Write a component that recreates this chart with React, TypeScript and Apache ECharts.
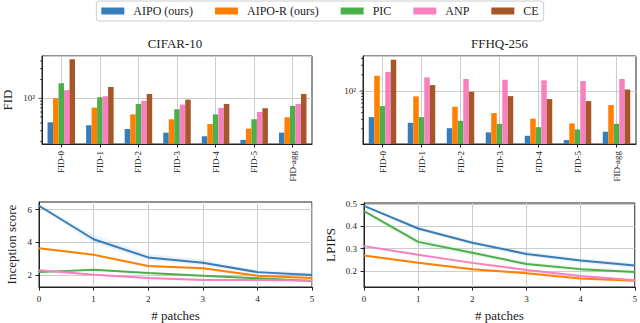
import React, { useEffect, useRef } from 'react';
import * as echarts from 'echarts';

const FONT = 'Liberation Serif';
const INK = '#222222';
const GRIDC = '#cccccc';

const methods = ['AIPO (ours)', 'AIPO-R (ours)', 'PIC', 'ANP', 'CE'];
const colors = ['#377eb8', '#ff7f00', '#4daf4a', '#f781bf', '#a65628'];
const fidCategories = ['FID-0', 'FID-1', 'FID-2', 'FID-3', 'FID-4', 'FID-5', 'FID-agg'];

// CIFAR-10 FID (log scale)
const cifarAIPO = [41, 36.7, 32, 27.9, 24.4, 21.3, 27.9];
const cifarAIPOR = [100, 70.7, 55, 45.8, 38.5, 32.4, 49.4];
const cifarPIC = [175, 104, 81, 66.5, 55, 45.8, 75.2];
const cifarANP = [135, 108, 90.6, 79, 70, 60, 81];
const cifarCE = [425, 152, 117, 95, 81, 69, 117];

// FFHQ-256 FID (log scale)
const ffhqAIPO = [33, 25.9, 20.6, 17.2, 14.9, 12.4, 17.7];
const ffhqAIPOR = [192, 79.6, 51.3, 39.2, 30.8, 25.2, 55];
const ffhqPIC = [52.7, 33, 28.2, 24.8, 21.5, 19.5, 24.8];
const ffhqANP = [225, 179, 167, 162, 158, 153, 167];
const ffhqCE = [380, 129, 97, 80.7, 71.1, 65.3, 107];

const logMajorTicks = [100];
const cifarMinorTicks = [20, 30, 40, 50, 60, 70, 80, 90, 200, 300, 400];
const ffhqMinorTicks = [20, 30, 40, 50, 60, 70, 80, 90, 200, 300, 400];

// patches
const patches = ['0', '1', '2', '3', '4', '5'];

// Inception score
const isAIPO = [6.24, 4.19, 3.08, 2.75, 2.18, 2.0];
const isAIPOR = [3.64, 3.24, 2.55, 2.41, 1.96, 1.82];
const isPIC = [2.18, 2.32, 2.12, 1.96, 1.8, 1.63];
const isANP = [2.3, 2.02, 1.82, 1.7, 1.7, 1.66];
const isAIPOLow = [6.18, 3.95, 2.9, 2.6, 2.05, 1.88];
const isAIPOHigh = [6.3, 4.45, 3.3, 2.95, 2.3, 2.15];
const isAIPORLow = [3.6, 3.18, 2.48, 2.34, 1.9, 1.76];
const isAIPORHigh = [3.7, 3.3, 2.62, 2.48, 2.02, 1.88];
const isPICLow = [2.14, 2.28, 2.06, 1.9, 1.74, 1.56];
const isPICHigh = [2.22, 2.36, 2.18, 2.02, 1.86, 1.7];
const isANPLow = [2.26, 1.96, 1.76, 1.64, 1.62, 1.58];
const isANPHigh = [2.34, 2.08, 1.88, 1.76, 1.76, 1.74];
const isTicks = [2, 4, 6];

// LPIPS
const lpAIPO = [0.491, 0.39, 0.326, 0.276, 0.247, 0.224];
const lpAIPOR = [0.269, 0.237, 0.207, 0.19, 0.166, 0.156];
const lpPIC = [0.468, 0.33, 0.281, 0.231, 0.208, 0.195];
const lpANP = [0.311, 0.272, 0.236, 0.204, 0.177, 0.158];
const lpAIPOLow = [0.487, 0.38, 0.316, 0.266, 0.237, 0.212];
const lpAIPOHigh = [0.495, 0.4, 0.336, 0.286, 0.257, 0.236];
const lpAIPORLow = [0.265, 0.232, 0.202, 0.185, 0.161, 0.15];
const lpAIPORHigh = [0.273, 0.242, 0.212, 0.195, 0.171, 0.162];
const lpPICLow = [0.464, 0.31, 0.268, 0.221, 0.198, 0.185];
const lpPICHigh = [0.472, 0.345, 0.293, 0.241, 0.218, 0.205];
const lpANPLow = [0.307, 0.266, 0.23, 0.198, 0.171, 0.151];
const lpANPHigh = [0.315, 0.278, 0.242, 0.21, 0.183, 0.165];
const lpTicks = [0.2, 0.3, 0.4, 0.5];

const cifarSets = [cifarAIPO, cifarAIPOR, cifarPIC, cifarANP, cifarCE];
const ffhqSets = [ffhqAIPO, ffhqAIPOR, ffhqPIC, ffhqANP, ffhqCE];
const isSets = [isAIPO, isAIPOR, isPIC, isANP];
const isBands = [[isAIPOLow, isAIPOHigh], [isAIPORLow, isAIPORHigh], [isPICLow, isPICHigh], [isANPLow, isANPHigh]];
const lpSets = [lpAIPO, lpAIPOR, lpPIC, lpANP];
const lpBands = [[lpAIPOLow, lpAIPOHigh], [lpAIPORLow, lpAIPORHigh], [lpPICLow, lpPICHigh], [lpANPLow, lpANPHigh]];

const tickSeries = (axisIdx: number, minor: number[]) => ({
  type: 'custom',
  xAxisIndex: axisIdx,
  yAxisIndex: axisIdx,
  silent: true,
  clip: false,
  z: 5,
  data: [...logMajorTicks.map((v) => [0, v, 1]), ...minor.map((v) => [0, v, 0])],
  encode: { x: 0, y: 1 },
  renderItem: (params: any, api: any) => {
    const pt = api.coord([0, api.value(1)]);
    const cs = params.coordSys;
    const len = api.value(2) === 1 ? 3.5 : 2;
    return {
      type: 'line',
      shape: { x1: cs.x - len, y1: pt[1], x2: cs.x, y2: pt[1] },
      style: { stroke: INK, lineWidth: 0.8 },
    };
  },
});

const axisLineStyle = { show: true, lineStyle: { color: INK, width: 1 } };
const labelBase = { color: INK, fontFamily: FONT, fontSize: 9 };
const nameStyle = { color: INK, fontFamily: FONT, fontSize: 13 };

export default function App() {
  const ref = useRef<HTMLDivElement>(null);
  useEffect(() => {
    if (!ref.current) return;
    const chart = echarts.init(ref.current, null, { renderer: 'svg' });

    const grids = [
      { left: 38, top: 56, width: 274, height: 88 },
      { left: 363, top: 56, width: 273, height: 88 },
      { left: 39, top: 202, width: 273, height: 88 },
      { left: 364, top: 203, width: 273, height: 87 },
    ].map((g) => ({ ...g, show: true, borderColor: INK, borderWidth: 1, backgroundColor: 'transparent', containLabel: false }));

    const catX = (gi: number) => ({
      type: 'category',
      gridIndex: gi,
      data: fidCategories,
      axisLine: axisLineStyle,
      axisTick: { show: true, alignWithLabel: true, length: 3.5, lineStyle: { color: INK } },
      axisLabel: { ...labelBase, rotate: 90, margin: 7, interval: 0 },
      splitLine: { show: true, alignWithLabel: true, interval: 0, lineStyle: { color: GRIDC, width: 1 } },
    });

    const logY = (gi: number, min: number, max: number, name: string) => ({
      type: 'log',
      logBase: 10,
      gridIndex: gi,
      min,
      max,
      name,
      nameLocation: 'middle',
      nameGap: 28,
      nameTextStyle: nameStyle,
      axisLine: axisLineStyle,
      axisTick: { show: false },
      axisLabel: {
        ...labelBase,
        margin: 7,
        showMinLabel: false,
        showMaxLabel: false,
        formatter: (v: number) => (Math.abs(v - 100) < 0.5 ? '10²' : ''),
      },
      splitLine: { show: true, lineStyle: { color: GRIDC, width: 1 } },
    });

    const patchX = (gi: number) => ({
      type: 'category',
      gridIndex: gi,
      data: patches,
      boundaryGap: false,
      name: '# patches',
      nameLocation: 'middle',
      nameGap: 22,
      nameTextStyle: nameStyle,
      axisLine: axisLineStyle,
      axisTick: { show: true, length: 3.5, interval: 0, lineStyle: { color: INK } },
      axisLabel: { ...labelBase, margin: 7, interval: 0 },
      splitLine: { show: true, interval: 0, lineStyle: { color: GRIDC, width: 1 } },
    });

    const valY = (gi: number, min: number, max: number, ticks: number[], name: string, gap: number, fmt: (v: number) => string) => ({
      type: 'value',
      gridIndex: gi,
      min,
      max,
      name,
      nameLocation: 'middle',
      nameGap: gap,
      nameTextStyle: nameStyle,
      axisLine: axisLineStyle,
      axisTick: { show: true, length: 3.5, customValues: ticks, lineStyle: { color: INK } },
      axisLabel: { ...labelBase, margin: 7, customValues: ticks, formatter: fmt },
      splitLine: { show: true, lineStyle: { color: GRIDC, width: 1 } },
    });

    const series: any[] = [];
    [cifarSets, ffhqSets].forEach((sets, gi) => {
      sets.forEach((vals, i) => {
        series.push({
          type: 'bar',
          name: methods[i],
          xAxisIndex: gi,
          yAxisIndex: gi,
          data: vals,
          barWidth: 5.5,
          barGap: '0%',
          itemStyle: { color: colors[i] },
          silent: true,
        });
      });
    });
    series.push(tickSeries(0, cifarMinorTicks));
    series.push(tickSeries(1, ffhqMinorTicks));

    const addLines = (gi: number, sets: number[][], bands: number[][][]) => {
      bands.forEach(([lo, hi], i) => {
        const stack = `band-${gi}-${i}`;
        series.push({
          type: 'line',
          name: `band-lo-${gi}-${i}`,
          xAxisIndex: gi,
          yAxisIndex: gi,
          stack,
          data: lo,
          symbol: 'none',
          lineStyle: { opacity: 0 },
          silent: true,
          z: 1,
        });
        series.push({
          type: 'line',
          name: `band-hi-${gi}-${i}`,
          xAxisIndex: gi,
          yAxisIndex: gi,
          stack,
          data: hi.map((h, k) => h - lo[k]),
          symbol: 'none',
          lineStyle: { opacity: 0 },
          areaStyle: { color: colors[i], opacity: 0.1 },
          silent: true,
          z: 1,
        });
      });
      sets.forEach((vals, i) => {
        series.push({
          type: 'line',
          name: methods[i],
          xAxisIndex: gi,
          yAxisIndex: gi,
          data: vals,
          symbol: 'none',
          lineStyle: { color: colors[i], width: 2 },
          itemStyle: { color: colors[i] },
          silent: true,
          z: 3 + i,
        });
      });
    };
    addLines(2, isSets, isBands);
    addLines(3, lpSets, lpBands);

    chart.setOption({
      animation: false,
      textStyle: { fontFamily: FONT },
      legend: {
        data: methods,
        top: 1,
        left: 'center',
        icon: 'rect',
        itemWidth: 23,
        itemHeight: 7,
        itemGap: 22,
        borderColor: GRIDC,
        borderWidth: 1,
        borderRadius: 3,
        padding: [4, 5, 4, 5],
        selectedMode: false,
        textStyle: { fontFamily: FONT, fontSize: 12, color: INK, padding: [0, 0, 0, 4] },
      },
      graphic: [
        { type: 'text', x: 175, y: 43, style: { text: 'CIFAR-10', fontFamily: FONT, fontSize: 13, fill: INK, align: 'center', verticalAlign: 'middle' } },
        { type: 'text', x: 499.5, y: 43, style: { text: 'FFHQ-256', fontFamily: FONT, fontSize: 13, fill: INK, align: 'center', verticalAlign: 'middle' } },
      ],
      grid: grids,
      xAxis: [catX(0), catX(1), patchX(2), patchX(3)],
      yAxis: [
        logY(0, 18.3, 480, 'FID'),
        logY(1, 10.5, 445, ''),
        valY(2, 1.27, 6.47, isTicks, 'Inception score', 21, (v) => String(v)),
        valY(3, 0.128, 0.504, lpTicks, 'LPIPS', 27, (v) => v.toFixed(1)),
      ],
      series,
    });
    return () => chart.dispose();
  }, []);
  return <div ref={ref} style={{ position: 'absolute', left: 0, top: 0, width: 640, height: 323, background: '#fff' }} />;
}
